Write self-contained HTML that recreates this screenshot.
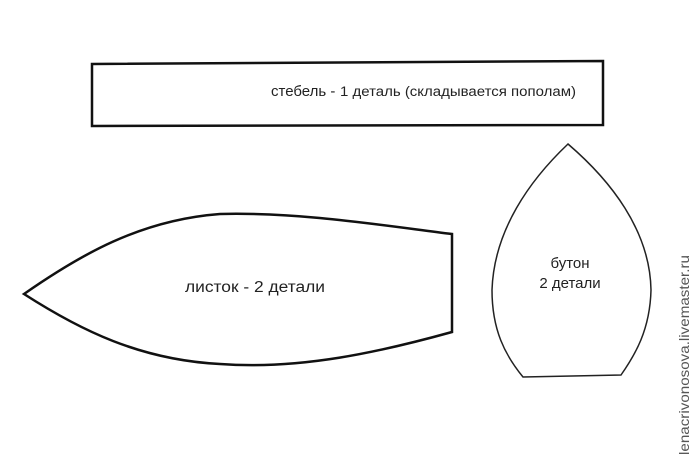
<!DOCTYPE html>
<html><head><meta charset="utf-8"><style>
html,body{margin:0;padding:0;background:#fff;}
svg{display:block;}
text{font-family:"Liberation Sans",sans-serif;fill:#222;}
</style></head><body>
<svg width="690" height="464" viewBox="0 0 690 464" xmlns="http://www.w3.org/2000/svg">
<rect x="0" y="0" width="690" height="464" fill="#fff"/>
<path d="M92 64 L603 61 L603 125 L92 126 Z" fill="none" stroke="#111" stroke-width="2.5"/>
<text x="271" y="96" font-size="15">стебель - </text>
<text x="340" y="96" font-size="13.5" textLength="236" lengthAdjust="spacingAndGlyphs">1 деталь (складывается пополам)</text>
<path d="M24 294 C80 255 140 220 220 214 C300 212 380 225 452 234 L452 332 C380 352 300 370 220 364 C140 360 80 330 24 294 Z" fill="none" stroke="#111" stroke-width="2.5"/>
<text x="255" y="292" font-size="15.5" text-anchor="middle" textLength="140" lengthAdjust="spacingAndGlyphs">листок - 2 детали</text>
<path d="M568 144 C610 180 650 230 651 290 C650 330 635 355 621 375 L523 377 C505 355 492 330 492 290 C494 230 530 180 568 144 Z" fill="none" stroke="#222" stroke-width="1.5"/>
<text x="570" y="268" font-size="15" text-anchor="middle">бутон</text>
<text x="570" y="288" font-size="15" text-anchor="middle">2 детали</text>
<text transform="translate(689,455) rotate(-90)" font-size="14" textLength="200" lengthAdjust="spacingAndGlyphs" style="fill:#555">lenacrivonosova.livemaster.ru</text>
</svg>
</body></html>
